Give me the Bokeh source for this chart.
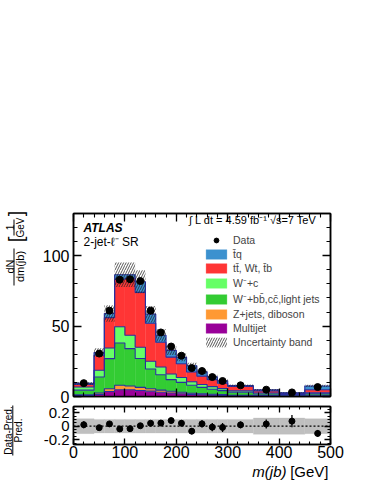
import numpy as np
from bokeh.plotting import figure
from bokeh.layouts import column, row
from bokeh.models import (Legend, LegendItem, Label, Span, LinearAxis,
                          SingleIntervalTicker, FixedTicker, CustomJSTickFormatter, Range1d)
from bokeh.embed import file_html
from bokeh.resources import INLINE

# ---------------- data ----------------
edges = [0, 40, 60, 80, 100, 120, 140, 160, 180, 200, 220, 240, 260, 280, 300, 350, 400, 450, 500]
multijet = [0.6, 1.5, 3.5, 4.8, 4.8, 4.3, 3.8, 3.0, 2.5, 2.0, 1.5, 1.2, 1.0, 0.8, 0.5, 0.4, 0.2, 0.3]
zjets    = [0.6, 1.0, 2.0, 3.2, 2.7, 2.2, 1.7, 1.5, 1.2, 1.0, 0.8, 0.7, 0.6, 0.5, 0.4, 0.2, 0.2, 0.2]
wbb      = [3.3, 11.3, 21.4, 30.0, 26.5, 20.5, 14.0, 11.0, 8.3, 7.0, 5.7, 4.6, 3.6, 2.9, 2.1, 1.2, 0.6, 1.4]
wc       = [2.3, 4.8, 7.6, 11.5, 9.5, 8.0, 5.5, 5.5, 4.0, 3.5, 2.5, 2.0, 1.8, 1.4, 1.0, 0.7, 0.4, 0.7]
ttbar    = [1.8, 10.7, 21.5, 33.8, 40.5, 39.0, 27.0, 17.5, 12.0, 9.8, 6.9, 6.0, 5.0, 3.9, 3.1, 1.5, 0.8, 2.2]
tq       = [0.7, 1.9, 3.0, 3.2, 2.5, 7.5, 6.5, 5.0, 4.8, 4.5, 4.4, 3.0, 2.0, 1.7, 0.7, 0.7, 0.5, 2.7]
data     = [9.5, 30.5, 61.0, 83.0, 83.3, 82.0, 61.0, 45.5, 35.5, 29.0, 20.2, 18.1, 13.8, 11.0, 7.95, 4.85, 2.9, 6.7]
unc      = [0.11, 0.10, 0.10, 0.10, 0.10, 0.10, 0.10, 0.10, 0.10, 0.10, 0.10, 0.10, 0.10, 0.10, 0.10, 0.12, 0.12, 0.11]

# stack order from the bottom up
stack_names = ["Multijet", "Z+jets, diboson", "W\u207b+bb\u0304,cc\u0304,light jets", "W\u207b+c",
               "tt\u0304, Wt, t\u0304b", "t\u0304q"]
stack_cols = ["#990099", "#ff9933", "#33cc33", "#66ff66", "#ff3535", "#3c91cf"]
legend_order = ["t\u0304q", "tt\u0304, Wt, t\u0304b", "W\u207b+c", "W\u207b+bb\u0304,cc\u0304,light jets",
                "Z+jets, diboson", "Multijet"]
outline = "#2a2f9f"
FONT = "Liberation Sans"

# ---------------- derived ----------------
e = np.array(edges, dtype=float)
left, right = e[:-1], e[1:]
width = right - left
centers = 0.5 * (left + right)
stack = [np.array(multijet), np.array(zjets), np.array(wbb), np.array(wc), np.array(ttbar), np.array(tq)]
d = np.array(data)
u = np.array(unc)
total = np.sum(stack, axis=0)
derr = np.sqrt(d * width) / width
ratio = (d - total) / total
rerr = derr / total

empty = CustomJSTickFormatter(code="return ''")


def style(ax, maj, mnr, labsize, show=True, standoff=4):
    ax.major_tick_in = maj
    ax.major_tick_out = 0
    ax.minor_tick_in = mnr
    ax.minor_tick_out = 0
    ax.axis_line_color = "black"
    ax.axis_line_width = 1.5
    ax.major_tick_line_width = 1.3
    ax.minor_tick_line_width = 1.1
    ax.major_label_text_font = FONT
    ax.major_label_text_color = "black"
    if show:
        ax.major_label_text_font_size = labsize
        ax.major_label_standoff = standoff
    else:
        ax.formatter = empty
        ax.major_label_text_font_size = "1px"
        ax.major_label_standoff = 0


# ---------------- main panel ----------------
p = figure(frame_width=257, frame_height=183, x_range=Range1d(0, 500), y_range=Range1d(0, 130),
           output_backend="svg", toolbar_location=None,
           min_border_left=43, min_border_right=30, min_border_top=213, min_border_bottom=9)
p.grid.visible = False
p.outline_line_color = "black"
p.outline_line_width = 1.5

xt = SingleIntervalTicker(interval=100, num_minor_ticks=5)
yt = SingleIntervalTicker(interval=50, num_minor_ticks=5)
p.xaxis.ticker = xt
p.yaxis.ticker = yt
style(p.xaxis[0], 8, 4, "16px", show=False)
style(p.yaxis[0], 8, 4, "16px")
top_ax = LinearAxis(ticker=xt)
style(top_ax, 8, 4, "1px", show=False)
p.add_layout(top_ax, "above")
right_ax = LinearAxis(ticker=yt)
style(right_ax, 8, 4, "1px", show=False)
p.add_layout(right_ax, "right")

renderers = {}
bottom = np.zeros(len(left))
for comp, name, col in zip(stack, stack_names, stack_cols):
    topv = bottom + comp
    r = p.quad(left=left, right=right, bottom=bottom, top=topv, fill_color=col,
               line_color=col, line_width=0.3)
    renderers[name] = r
    bottom = topv
bottom = np.zeros(len(left))
for comp in stack:
    topv = bottom + comp
    p.step(x=e, y=np.append(topv, topv[-1]), mode="after", line_color=outline, line_width=1.1)
    bottom = topv

band = p.quad(left=left, right=right, bottom=total * (1 - u), top=total * (1 + u),
              fill_alpha=0, line_color=None, hatch_pattern="/", hatch_color="#222222",
              hatch_alpha=0.85, hatch_scale=5, hatch_weight=0.9)

p.segment(x0=centers, x1=centers, y0=d - derr, y1=d + derr, line_color="black", line_width=1.3)
dots = p.scatter(centers, d, size=7, color="black")

items = [LegendItem(label="Data", renderers=[dots])]
for name in legend_order:
    items.append(LegendItem(label=name, renderers=[renderers[name]]))
items.append(LegendItem(label="Uncertainty band", renderers=[band]))
leg = Legend(items=items, location=(130, 48), glyph_width=26, glyph_height=12, label_height=12,
             spacing=2, padding=0, margin=0, label_standoff=4, border_line_color=None,
             background_fill_alpha=0, label_text_font_size="10.5px", label_text_font=FONT)
p.add_layout(leg)


def lab(fig, text, x, y, size, align="left", style_="normal", units="screen", angle=0.0):
    fig.add_layout(Label(x=x, y=y, x_units=units, y_units=units, text=text, text_font=FONT,
                         text_font_size=size, text_align=align, text_baseline="middle",
                         text_font_style=style_, text_color="black", angle=angle))


lab(p, "ATLAS", 10, 169, "12px", style_="bold italic")
lab(p, "2-jet-\u2113\u207b SR", 10, 155, "12px")
lab(p, "\u222b L dt = 4.59 fb\u207b\u00b9   \u221as=7 TeV", 249, 177, "11px", align="right")

# ---------------- ratio panel ----------------
q = figure(frame_width=257, frame_height=38, x_range=p.x_range, y_range=Range1d(-0.27, 0.29),
           output_backend="svg", toolbar_location=None,
           min_border_left=43, min_border_right=30, min_border_top=1, min_border_bottom=19)
q.grid.visible = False
q.outline_line_color = "black"
q.outline_line_width = 1.5
qyt = FixedTicker(ticks=[-0.2, 0.0, 0.2],
                  minor_ticks=[-0.25, -0.15, -0.1, -0.05, 0.05, 0.1, 0.15, 0.25])
q.xaxis.ticker = xt
q.yaxis.ticker = qyt
style(q.xaxis[0], 6, 3, "16px", standoff=1)
style(q.yaxis[0], 6, 3, "15px")
q.yaxis.major_label_overrides = {-0.2: "-0.2", 0: "0", 0.2: "0.2"}
qt = LinearAxis(ticker=xt)
style(qt, 6, 3, "1px", show=False)
q.add_layout(qt, "above")
qr = LinearAxis(ticker=qyt)
style(qr, 6, 3, "1px", show=False)
q.add_layout(qr, "right")

q.quad(left=left, right=right, bottom=-u, top=u, fill_color="#bfbfbf", line_color="#bfbfbf",
       line_width=0.3)
q.add_layout(Span(location=0, dimension="width", line_color="black", line_dash="2 2", line_width=1.3))
q.segment(x0=centers, x1=centers, y0=ratio - rerr, y1=ratio + rerr, line_color="black", line_width=1.3)
q.scatter(centers, ratio, size=6, color="black")


# ---------------- text strips (page pixel coordinates) ----------------
def strip(w, h, x0, y0, bl=0, br=0):
    f = figure(frame_width=w, frame_height=h, x_range=Range1d(x0, x0 + w), y_range=Range1d(y0 + h, y0),
               output_backend="svg", toolbar_location=None, title=None, min_border=0,
               min_border_left=bl, min_border_right=br, min_border_top=0, min_border_bottom=0,
               x_axis_location=None, y_axis_location=None, outline_line_color=None)
    f.grid.visible = False
    return f


half_pi = np.pi / 2


def vtext(f, text, x, y, size):
    lab(f, text, x, y, size, align="center", units="data", angle=half_pi)


lf = strip(30, 484, 0, 0)
vtext(lf, "dN", 9.5, 266, "11px")
vtext(lf, "dm(jb)", 19.5, 266, "11px")
lf.segment(x0=[13.5], x1=[13.5], y0=[248], y1=[285], line_color="black", line_width=1)
vtext(lf, "1", 9.5, 227, "10px")
vtext(lf, "GeV", 19.5, 227, "10px")
lf.segment(x0=[13.5], x1=[13.5], y0=[219], y1=[235], line_color="black", line_width=1)
vtext(lf, "[", 15, 239, "20px")
vtext(lf, "]", 15, 213, "20px")
vtext(lf, "Data-Pred.", 7.5, 430, "10px")
lf.segment(x0=[12.3], x1=[12.3], y0=[405], y1=[455], line_color="black", line_width=1)
vtext(lf, "Pred.", 17.5, 430, "10px")

# the strip's frame lines up with the panels' frames (page x 73..330), same borders as the panels
bf = strip(257, 20, 73, 463, bl=43, br=30)
lab(bf, "m(jb)", 286, 471, "15px", align="right", style_="italic", units="data")
lab(bf, "[GeV]", 328, 471, "15px", align="right", units="data")

layout = row(lf, column(p, q, bf))
open("out.html", "w").write(file_html(layout, INLINE))
